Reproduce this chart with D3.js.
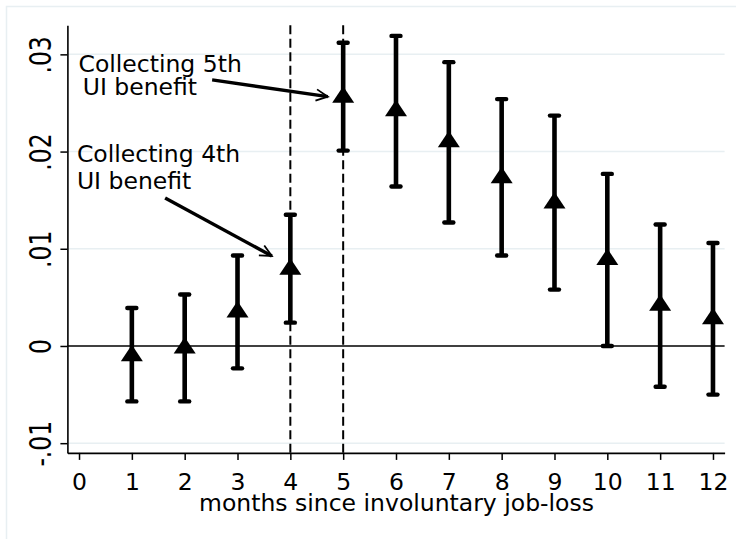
<!DOCTYPE html>
<html>
<head>
<meta charset="utf-8">
<script src="https://cdn.jsdelivr.net/npm/d3@7"></script>
<style>
  html, body { margin: 0; padding: 0; background: #ffffff; }
  svg { display: block; }
  text { font-family: "DejaVu Sans", Verdana, sans-serif; fill: #000; }
</style>
</head>
<body>
<svg id="chart" width="736" height="539"></svg>
<script>
// ---- data ----
const months = [1, 2, 3, 4, 5, 6, 7, 8, 9, 10, 11, 12];
const estimates = [-0.0010, -0.0002, 0.0035, 0.0079, 0.0256, 0.0242, 0.0210, 0.0173, 0.0147, 0.0089, 0.0042, 0.0028];
const upperCI = [0.0039, 0.0053, 0.0093, 0.0135, 0.0312, 0.0319, 0.0292, 0.0254, 0.0237, 0.0177, 0.0125, 0.0106];
const lowerCI = [-0.0057, -0.0057, -0.0023, 0.0024, 0.0201, 0.0164, 0.0127, 0.0093, 0.0058, 0.0000, -0.0042, -0.0050];
const xTicks = [0, 1, 2, 3, 4, 5, 6, 7, 8, 9, 10, 11, 12];
const yTicks = [-0.01, 0, 0.01, 0.02, 0.03];
const yTickLabels = ["-.01", "0", ".01", ".02", ".03"];
const vLines = [4, 5];
const xTitle = "months since involuntary job-loss";
const annoLines = [
  ["Collecting 5th", "UI benefit"],
  ["Collecting 4th", "UI benefit"]
];
// annotation anchors in data units: text line positions and arrow start/end
const annoTextX = [[-0.01, 0.07], [-0.04, -0.04]];
const annoTextY = [[0.02822, 0.02582], [0.0189, 0.01612]];
const arrowFrom = [[2.52, 0.02737], [1.63, 0.01523]];
const arrowTo = [[4.71, 0.02565], [3.65, 0.00926]];

// ---- layout ----
const svg = d3.select("#chart");
const x = d3.scaleLinear().domain([-0.22, 12.22]).range([67.4, 724.6]);
const y = d3.scaleLinear().domain([-0.011, 0.033]).range([452.9, 25.2]);
const gridColor = "#e8eff2";
const fs = 23.5;

// outer graph-region frame
svg.append("rect").attr("x", 6.5).attr("y", 6.5).attr("width", 760).attr("height", 560)
  .attr("fill", "none").attr("stroke", gridColor).attr("stroke-width", 1.5);

// gridlines
svg.append("g").selectAll("line").data(yTicks.filter(d => d !== 0)).join("line")
  .attr("x1", x.range()[0]).attr("x2", x.range()[1])
  .attr("y1", d => y(d)).attr("y2", d => y(d))
  .attr("stroke", gridColor).attr("stroke-width", 1.5);

// zero line
svg.append("line")
  .attr("x1", x.range()[0]).attr("x2", x.range()[1])
  .attr("y1", y(0)).attr("y2", y(0))
  .attr("stroke", "#000").attr("stroke-width", 1.4);

// dashed vertical lines
svg.append("g").selectAll("line").data(vLines).join("line")
  .attr("x1", d => x(d)).attr("x2", d => x(d))
  .attr("y1", y.range()[1]).attr("y2", y.range()[0])
  .attr("stroke", "#000").attr("stroke-width", 2)
  .attr("stroke-dasharray", "9,4.5");

// y axis
const yAxis = d3.axisLeft(y).tickValues(yTicks).tickSize(7).tickSizeOuter(0)
  .tickFormat((d, i) => yTickLabels[i]);
const gy = svg.append("g").attr("transform", `translate(${x.range()[0]},0)`).call(yAxis);
gy.select(".domain").attr("stroke-width", 1.6);
gy.selectAll(".tick line").attr("stroke-width", 1.5);
gy.selectAll(".tick text")
  .attr("x", null).attr("dy", null)
  .attr("text-anchor", "middle")
  .attr("font-size", fs)
  .attr("transform", "translate(-16,0) rotate(-90) scale(1,1.27)")
  .attr("y", 0);

// x axis
const xAxis = d3.axisBottom(x).tickValues(xTicks).tickSize(7).tickSizeOuter(0)
  .tickFormat(d3.format("d"));
const gx = svg.append("g").attr("transform", `translate(0,${y.range()[0]})`).call(xAxis);
gx.select(".domain").attr("stroke-width", 1.6);
gx.selectAll(".tick line").attr("stroke-width", 1.5);
gx.selectAll(".tick text").attr("font-size", fs).attr("y", 37).attr("dy", null);

// x title
svg.append("text").attr("x", (x(0) + x(12)) / 2 + 0.5).attr("y", 511)
  .attr("text-anchor", "middle").attr("font-size", fs).text(xTitle);

// error bars
const ci = svg.append("g");
ci.selectAll("line.bar").data(months).join("line").attr("class", "bar")
  .attr("x1", d => x(d)).attr("x2", d => x(d))
  .attr("y1", (d, i) => y(upperCI[i])).attr("y2", (d, i) => y(lowerCI[i]))
  .attr("stroke", "#000").attr("stroke-width", 4.6);
const caps = [];
months.forEach((m, i) => { caps.push([m, upperCI[i]]); caps.push([m, lowerCI[i]]); });
ci.selectAll("line.cap").data(caps).join("line").attr("class", "cap")
  .attr("x1", d => x(d[0]) - 4.5).attr("x2", d => x(d[0]) + 4.5)
  .attr("y1", d => y(d[1])).attr("y2", d => y(d[1]))
  .attr("stroke", "#000").attr("stroke-width", 4.4).attr("stroke-linecap", "round");

// triangle markers (centroid at the estimate)
const tw = 22, th = 16.5;
svg.append("g").selectAll("path").data(months).join("path")
  .attr("d", (d, i) => {
    const cx = x(d), cy = y(estimates[i]);
    return `M${cx},${cy - th * 2 / 3}L${cx + tw / 2},${cy + th / 3}L${cx - tw / 2},${cy + th / 3}Z`;
  })
  .attr("fill", "#000");

// annotations
annoLines.forEach((lines, k) => {
  lines.forEach((t, j) => {
    svg.append("text").attr("x", x(annoTextX[k][j])).attr("y", y(annoTextY[k][j]))
      .attr("font-size", fs).text(t);
  });
  const x1 = x(arrowFrom[k][0]), y1 = y(arrowFrom[k][1]);
  const x2 = x(arrowTo[k][0]), y2 = y(arrowTo[k][1]);
  svg.append("line").attr("x1", x1).attr("y1", y1).attr("x2", x2).attr("y2", y2)
    .attr("stroke", "#000").attr("stroke-width", 3.4);
  const ang = Math.atan2(y2 - y1, x2 - x1);
  const hl = 13, ha = 0.45;
  const p1 = [x2 - hl * Math.cos(ang - ha), y2 - hl * Math.sin(ang - ha)];
  const p2 = [x2 - hl * Math.cos(ang + ha), y2 - hl * Math.sin(ang + ha)];
  svg.append("path").attr("d", `M${p1[0]},${p1[1]}L${x2},${y2}L${p2[0]},${p2[1]}`)
    .attr("fill", "none").attr("stroke", "#000").attr("stroke-width", 1.8)
    .attr("stroke-linejoin", "miter");
});
</script>
</body>
</html>
